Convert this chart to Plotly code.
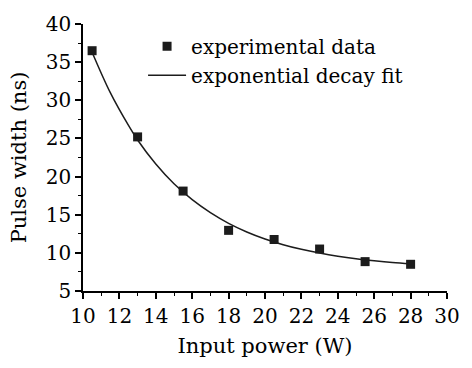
import plotly.graph_objects as go

# experimental data
power = [10.5, 13.0, 15.5, 18.0, 20.5, 23.0, 25.5, 28.0]
width = [36.5, 25.2, 18.1, 12.95, 11.75, 10.5, 8.85, 8.5]

# exponential decay fit curve
fit_x = [10.5, 11.5, 12.5, 13, 14, 15, 16, 17, 18, 19, 20, 21, 22, 23, 24, 25, 26, 27, 28]
fit_y = [36.3, 31.0, 26.7, 24.8, 21.65, 19.06, 16.97, 15.27, 13.87, 12.74, 11.82,
         11.07, 10.46, 9.97, 9.56, 9.23, 8.97, 8.75, 8.57]

FONT = "DejaVu Serif"

fig = go.Figure()
fig.add_trace(go.Scatter(x=power, y=width, mode="markers", name="experimental data",
                         marker=dict(symbol="square", size=9, color="#1c1c1c")))
fig.add_trace(go.Scatter(x=fit_x, y=fit_y, mode="lines", name="exponential decay fit",
                         line=dict(color="#1c1c1c", width=1.5, shape="spline")))

axis_common = dict(showgrid=False, zeroline=False, showline=True, linecolor="black",
                   linewidth=1.5, ticks="outside", ticklen=6, tickwidth=1.5,
                   tickcolor="black", mirror=False,
                   tickfont=dict(family=FONT, size=20, color="black"))

fig.update_xaxes(range=[10, 30], dtick=2, tick0=10,
                 minor=dict(dtick=1, ticks="outside", ticklen=3, tickwidth=1.2, tickcolor="black"),
                 title=dict(text="Input power (W)", font=dict(family=FONT, size=21, color="black"), standoff=12),
                 **axis_common)
fig.update_yaxes(range=[5, 40], dtick=5, tick0=5,
                 minor=dict(dtick=2.5, ticks="outside", ticklen=3, tickwidth=1.2, tickcolor="black"),
                 title=dict(text="Pulse width (ns)", font=dict(family=FONT, size=21, color="black"), standoff=13),
                 **axis_common)

fig.update_layout(
    width=472, height=368,
    margin=dict(l=83, r=14, t=13, b=77),
    plot_bgcolor="white", paper_bgcolor="white",
    showlegend=True,
    legend=dict(x=0.165, y=0.99, xanchor="left", yanchor="top", bgcolor="rgba(0,0,0,0)",
                itemwidth=38,
                font=dict(family=FONT, size=20, color="black"), tracegroupgap=0),
)

fig.write_html("out.html")
